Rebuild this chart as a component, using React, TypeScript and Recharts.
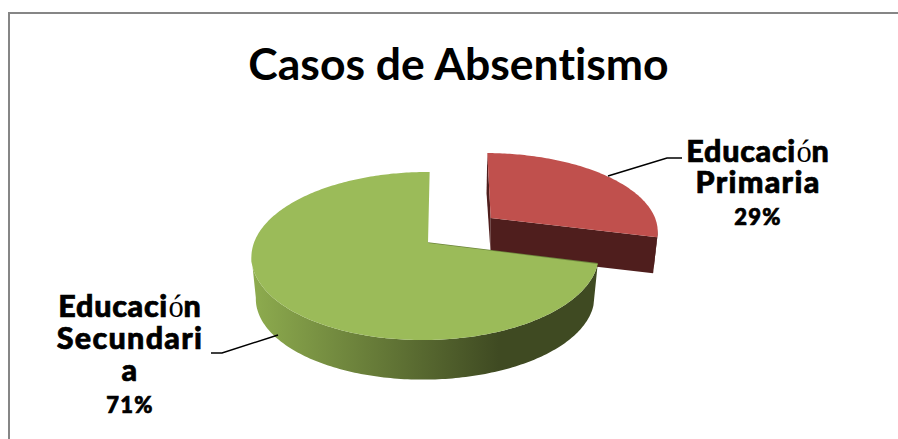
import React from "react";
import { PieChart, Pie } from "recharts";

const chartTitle = "Casos de Absentismo";
const categories = ["Educación Primaria", "Educación Secundaria"];
const values = [29, 71];
const labelLines = [["Educación", "Primaria"], ["Educación", "Secundari", "a"]];

const tableData = categories.map((name, i) => ({ name, value: values[i] }));

const topColors = ["#c0504d", "#9bbb59"];
const wallColors = ["#4f1e1d", "url(#greenWall)"];
const projections = [
  { x: 490.7, y: 218, a: 166, b: -3.9, c: 75, k: 0.155, m: 0.01, s: 0.975, dx: 0, dy: 36.5 },
  { x: 428, y: 243, a: 171.5, b: 1.9, c: 82, k: 0.155, m: 0.015, s: 0.975, dx: 0, dy: 42 },
];
const labelStyles = [
  { x: 758, ys: [162, 193], pctY: 225, lead: "M608,176 L667,158 L682,158" },
  { x: 130, ys: [317, 349, 381], pctY: 413, lead: "M278,335 L222,353 L211,353" },
];

type P = (typeof projections)[number];
const RAD = Math.PI / 180;
function offset(deg: number, g: P) {
  const u = Math.cos(deg * RAD);
  const v = Math.sin(deg * RAD);
  const w = 1 + g.k * v + g.m * u;
  return [(g.a * u + g.b * v) / w, (-g.c * v) / w];
}
const top = (deg: number, g: P) => {
  const [x, y] = offset(deg, g);
  return [g.x + x, g.y + y];
};
const bottom = (deg: number, g: P) => {
  const [x, y] = offset(deg, g);
  return [g.x + g.s * x + g.dx, g.y + g.s * y + g.dy];
};
const toPath = (pts: number[][]) =>
  "M" + pts.map((p) => `${p[0].toFixed(2)},${p[1].toFixed(2)}`).join(" L") + " Z";

function sweep(start: number, end: number) {
  const n = Math.max(2, Math.ceil(Math.abs(end - start)));
  return Array.from({ length: n + 1 }, (_, i) => start + ((end - start) * i) / n);
}

function Slice3D(props: any) {
  const { startAngle, endAngle, index } = props;
  const g = projections[index];
  const angles = sweep(startAngle, endAngle);
  const front = angles.filter((d) => Math.sin(d * RAD) < -0.14);
  const apex = [g.x, g.y];
  const apexBottom = [g.x + g.dx, g.y + g.dy];
  const startTop = top(startAngle, g);
  const endTop = top(endAngle, g);
  const isRed = index === 0;
  return (
    <g>
      <defs>
        <linearGradient id="greenWall" gradientUnits="userSpaceOnUse" x1="254" y1="0" x2="594" y2="0">
          <stop offset="0" stopColor="#8dab4e" />
          <stop offset="0.72" stopColor="#3f4a22" />
          <stop offset="1" stopColor="#3f4a22" />
        </linearGradient>
      </defs>
      {isRed && (
        <>
          <path
            d={toPath([startTop, [startTop[0] - 0.8, startTop[1] + 40], apexBottom, apex])}
            fill={wallColors[0]}
          />
          <path d={toPath([apex, endTop, bottom(endAngle, g), apexBottom])} fill={wallColors[0]} />
        </>
      )}
      {!isRed && (
        <path d={`M${startTop[0]},${startTop[1]} L${apex[0]},${apex[1]}`} stroke="#6d853d" strokeWidth={1.6} fill="none" />
      )}
      {front.length > 1 && (
        <path
          d={toPath([...front.map((d) => top(d, g)), ...front.slice().reverse().map((d) => bottom(d, g))])}
          fill={wallColors[index]}
        />
      )}
      <path d={toPath([apex, ...angles.map((d) => top(d, g))])} fill={topColors[index]} />
    </g>
  );
}

const boldProps = {
  fontFamily: "Lato",
  fontWeight: 900,
  fill: "#000",
  stroke: "#000",
  strokeWidth: 0.7,
  letterSpacing: 1.3,
};

function Wrapped({ text, x, y, size }: { text: string; x: number; y: number; size: number }) {
  const cut = text.indexOf("ó");
  if (cut < 0) {
    return (
      <text x={x} y={y} textAnchor="middle" fontSize={size} {...boldProps}>
        {text}
      </text>
    );
  }
  return (
    <g>
      <text x={x + 38} y={y} textAnchor="end" fontSize={size} {...boldProps} letterSpacing={0.7}>
        {text.slice(0, cut)}
      </text>
      <text x={x + 38.5} y={y} fontSize={size} fontFamily="Liberation Serif" fill="#000">
        ó
      </text>
      <text x={x + 53.5} y={y} fontSize={size} {...boldProps}>
        {text.slice(cut + 1)}
      </text>
    </g>
  );
}

function SliceLabel(props: any) {
  const { index, percent } = props;
  const s = labelStyles[index];
  return (
    <g>
      <path d={s.lead} fill="none" stroke="#000" strokeWidth={1.5} />
      {labelLines[index].map((t, i) => (
        <Wrapped key={i} text={t} x={s.x} y={s.ys[i]} size={30.5} />
      ))}
      <Wrapped text={`${Math.round(percent * 100)}%`} x={s.x} y={s.pctY} size={22} />
    </g>
  );
}

export default function App() {
  return (
    <div style={{ position: "absolute", left: 0, top: 0, width: 898, height: 439, overflow: "hidden", background: "#fff" }}>
      <div style={{ position: "absolute", left: 8, top: 12, width: 1000, height: 1000, borderLeft: "2px solid #868686", borderTop: "2px solid #868686" }} />
      <div style={{ position: "absolute", left: 0, top: 0 }}>
        <PieChart width={898} height={439} margin={{ top: 0, right: 0, bottom: 0, left: 0 }}>
          <text x={458.5} y={80} textAnchor="middle" fontFamily="Lato" fontWeight={700} fontSize={44.5} fill="#000" style={{ fontVariantLigatures: "none" }}>
            {chartTitle}
          </text>
          <Pie
            data={tableData}
            dataKey="value"
            nameKey="name"
            cx={428}
            cy={243}
            outerRadius={170}
            startAngle={90}
            endAngle={-270}
            isAnimationActive={false}
            shape={Slice3D}
            label={SliceLabel}
            labelLine={false}
            stroke="none"
          />
        </PieChart>
      </div>
    </div>
  );
}
